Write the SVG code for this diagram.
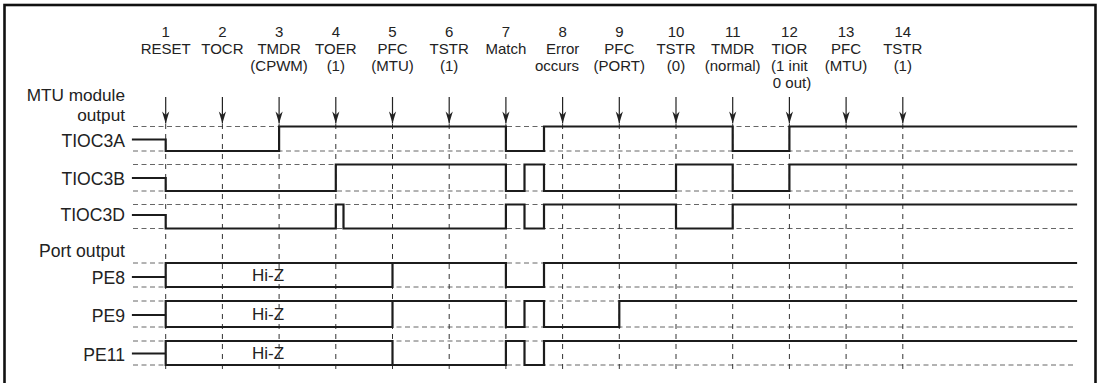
<svg xmlns="http://www.w3.org/2000/svg" width="1100" height="383" viewBox="0 0 1100 383">
<defs>
<style>
text{font-family:"Liberation Sans",Arial,Helvetica,sans-serif;font-size:15px;fill:#222}
.hd text{text-anchor:middle}
.lbl{text-anchor:end;font-size:17.6px}
.sm{font-size:17.2px}
.hz{text-anchor:middle;font-size:17px}
.sig{fill:none;stroke:#1c1c1c;stroke-width:2.2;stroke-linejoin:miter;stroke-linecap:square}
.hg{fill:none;stroke:#666;stroke-width:1;stroke-dasharray:5 3.5}
.vg{fill:none;stroke:#333;stroke-width:1;stroke-dasharray:5 5}
.arr{fill:none;stroke:#222;stroke-width:1.2}
</style>
<marker id="ah" markerWidth="8" markerHeight="14" viewBox="-4 -13 8 14" refX="0" refY="0" orient="0" markerUnits="userSpaceOnUse">
<path d="M0,0 L-3.6,-12 L0,-8.5 L3.6,-12 Z" fill="#222"/>
</marker>
</defs>
<rect x="4.5" y="5" width="1091" height="400" fill="#fff" stroke="#111" stroke-width="2.6"/>

<g id="header" class="hd">
<text x="165.7" y="37">1</text><text x="165.7" y="54">RESET</text>
<text x="222.4" y="37">2</text><text x="222.4" y="54">TOCR</text>
<text x="279.1" y="37">3</text><text x="279.1" y="54">TMDR</text><text x="279.1" y="71">(CPWM)</text>
<text x="335.8" y="37">4</text><text x="335.8" y="54">TOER</text><text x="335.8" y="71">(1)</text>
<text x="392.5" y="37">5</text><text x="392.5" y="54">PFC</text><text x="392.5" y="71">(MTU)</text>
<text x="449.2" y="37">6</text><text x="449.2" y="54">TSTR</text><text x="449.2" y="71">(1)</text>
<text x="505.9" y="37">7</text><text x="505.9" y="54">Match</text>
<text x="562.6" y="37">8</text><text x="562.6" y="54">Error</text><text x="557" y="71">occurs</text>
<text x="619.3" y="37">9</text><text x="619.3" y="54">PFC</text><text x="619.3" y="71">(PORT)</text>
<text x="676" y="37">10</text><text x="676" y="54">TSTR</text><text x="676" y="71">(0)</text>
<text x="732.7" y="37">11</text><text x="732.7" y="54">TMDR</text><text x="732.7" y="71">(normal)</text>
<text x="789.4" y="37">12</text><text x="789.4" y="54">TIOR</text><text x="789.4" y="71">(1 init</text><text x="792" y="88">0 out)</text>
<text x="846.1" y="37">13</text><text x="846.1" y="54">PFC</text><text x="846.1" y="71">(MTU)</text>
<text x="902.8" y="37">14</text><text x="902.8" y="54">TSTR</text><text x="902.8" y="71">(1)</text>
</g>

<g id="labels">
<text class="lbl sm" x="125" y="100.5">MTU module</text>
<text class="lbl sm" x="125" y="120.5">output</text>
<text class="lbl" x="125" y="256.5">Port output</text>
</g>

<g id="grid">
<path class="hg" d="M133,126.5H1076M133,151H1076M133,164.5H1076M133,191H1076M133,204.5H1076M133,228.5H1076M133,263H1076M133,287H1076M133,301H1076M133,327H1076M133,341H1076M133,365H1076"/>
<path class="vg" d="M165.7,124V369M222.4,124V369M279.1,124V369M335.8,124V369M392.5,124V369M449.2,124V369M505.9,124V369M562.6,124V369M619.3,124V369M676,124V369M732.7,124V369M789.4,124V369M846.1,124V369M902.8,124V369"/>
</g>

<g id="connectors">
<path class="arr" marker-end="url(#ah)" d="M165.7,97V123.5"/>
<path class="arr" marker-end="url(#ah)" d="M222.4,97V123.5"/>
<path class="arr" marker-end="url(#ah)" d="M279.1,97V123.5"/>
<path class="arr" marker-end="url(#ah)" d="M335.8,97V123.5"/>
<path class="arr" marker-end="url(#ah)" d="M392.5,97V123.5"/>
<path class="arr" marker-end="url(#ah)" d="M449.2,97V123.5"/>
<path class="arr" marker-end="url(#ah)" d="M505.9,97V123.5"/>
<path class="arr" marker-end="url(#ah)" d="M562.6,97V123.5"/>
<path class="arr" marker-end="url(#ah)" d="M619.3,97V123.5"/>
<path class="arr" marker-end="url(#ah)" d="M676,97V123.5"/>
<path class="arr" marker-end="url(#ah)" d="M732.7,97V123.5"/>
<path class="arr" marker-end="url(#ah)" d="M789.4,97V123.5"/>
<path class="arr" marker-end="url(#ah)" d="M846.1,97V123.5"/>
<path class="arr" marker-end="url(#ah)" d="M902.8,97V123.5"/>
</g>

<g id="TIOC3A">
<text class="lbl" x="125" y="146.5">TIOC3A</text>
<path class="sig" d="M133,139.5H165.7V151H279.1V126.5H505.9V151H544V126.5H732.7V151H789.4V126.5H1076"/>
</g>
<g id="TIOC3B">
<text class="lbl" x="125" y="184.5">TIOC3B</text>
<path class="sig" d="M133,178H165.7V191H335.8V164.5H505.9V191H524.5V164.5H544V191H676V164.5H732.7V191H789.4V164.5H1076"/>
</g>
<g id="TIOC3D">
<text class="lbl" x="125" y="220.5">TIOC3D</text>
<path class="sig" d="M133,215H165.7V228.5H335.8V204.5H343.5V228.5H505.9V204.5H524.5V228.5H544V204.5H676V228.5H732.7V204.5H1076"/>
</g>
<g id="PE8">
<text class="lbl" x="125" y="284">PE8</text>
<path class="sig" d="M133,277H165.7M165.7,287V263H392.5V287H165.7M392.5,263H505.9V287H544V263H1076"/>
<text class="hz" x="268" y="281">Hi-Z</text>
</g>
<g id="PE9">
<text class="lbl" x="125" y="321.5">PE9</text>
<path class="sig" d="M133,315H165.7M165.7,327V301H392.5V327H165.7M392.5,301H505.9V327H524.5V301H544V327H619.3V301H1076"/>
<text class="hz" x="268" y="320">Hi-Z</text>
</g>
<g id="PE11">
<text class="lbl" x="125" y="360.5">PE11</text>
<path class="sig" d="M133,353.5H165.7M165.7,365V341H392.5V365H165.7M392.5,365H505.9V341H524.5V365H544V341H1076"/>
<text class="hz" x="268" y="358.5">Hi-Z</text>
</g>
</svg>
